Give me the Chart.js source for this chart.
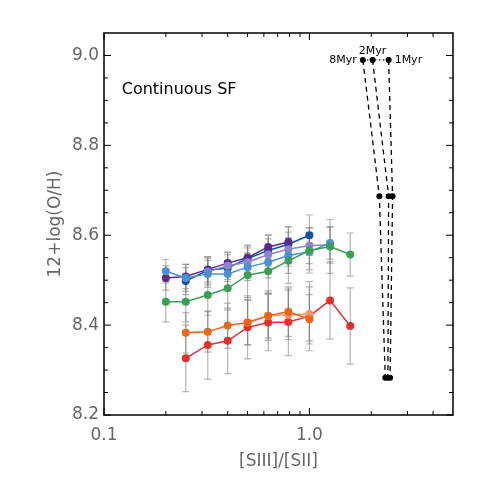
<!DOCTYPE html>
<html>
<head>
<meta charset="utf-8">
<script src="https://cdn.jsdelivr.net/npm/chart.js@4/dist/chart.umd.min.js"></script>
<style>
  html, body { margin: 0; padding: 0; background: #fff; }
  #wrap { width: 485px; height: 485px; }
</style>
</head>
<body>
<div id="wrap"><canvas id="chart-data" width="485" height="485"></canvas></div>
<script>
// [SIII]/[SII] bins (0.1 dex steps)
var ratio = [0.2, 0.25, 0.32, 0.4, 0.5, 0.63, 0.79, 1.0, 1.26, 1.58];

// 12+log(O/H) per sample, null = no point in that bin
var navy        = [null, 8.498, 8.522, 8.527, 8.548, 8.566, 8.580, 8.600, null, null];
var purple      = [8.505, 8.508, 8.524, 8.538, 8.550, 8.574, 8.585, null, null, null];
var lightPurple = [null, null, 8.519, 8.532, 8.540, 8.557, 8.569, 8.577, 8.578, null];
var lightBlue   = [8.520, 8.505, 8.514, 8.514, 8.529, 8.540, 8.555, 8.563, 8.583, null];
var green       = [8.452, 8.452, 8.467, 8.482, 8.511, 8.520, 8.543, 8.566, 8.575, 8.557];
var orange      = [null, 8.383, 8.385, 8.399, 8.406, 8.421, 8.430, 8.413, null, null];
var salmon      = [null, null, null, null, 8.406, 8.421, 8.423, 8.425, null, null];
var red         = [null, 8.326, 8.356, 8.365, 8.395, 8.406, 8.407, 8.420, 8.455, 8.398];

// symmetric errors
var navyErr        = [0, 0.030, 0.030, 0.030, 0.030, 0.035, 0.040, 0.045, 0, 0];
var purpleErr      = [0.027, 0.027, 0.028, 0.024, 0.026, 0.026, 0.033, 0, 0, 0];
var lightPurpleErr = [0, 0, 0.030, 0.030, 0.032, 0.035, 0.038, 0.040, 0.040, 0];
var lightBlueErr   = [0.026, 0.030, 0.030, 0.030, 0.030, 0.035, 0.040, 0.040, 0.036, 0];
var greenErr       = [0.045, 0.045, 0.045, 0.048, 0.050, 0.050, 0.050, 0.050, 0.060, 0.048];
var orangeErr      = [0, 0.045, 0.045, 0.050, 0.050, 0.050, 0.055, 0.055, 0, 0];
var salmonErr      = [0, 0, 0, 0, 0.050, 0.055, 0.055, 0.060, 0, 0];
var redErr         = [0, 0.074, 0.076, 0.073, 0.070, 0.063, 0.075, 0.077, 0.086, 0.085];

// model tracks (8, 2, 1 Myr)
var ageLabels = ["8Myr", "2Myr", "1Myr"];
var trackTopX = [1.82, 2.03, 2.43];
var trackMidX = [2.19, 2.43, 2.54];
var trackBotX = [2.34, 2.41, 2.47];
var trackTopY = 8.99;
var trackMidY = 8.687;
var trackBotY = 8.283;

// axis ticks
var xTicks = [0.1, 1.0];
var xMinor = [0.2, 0.3, 0.4, 0.5, 0.6, 0.7, 0.8, 0.9, 2, 3, 4];
var yTicks = [8.2, 8.4, 8.6, 8.8, 9.0];
var yMinor = [8.25, 8.3, 8.35, 8.45, 8.5, 8.55, 8.65, 8.7, 8.75, 8.85, 8.9, 8.95];

var series = [
    { values: green, err: greenErr, color: "#3c9d55" },
    { values: lightBlue, err: lightBlueErr, color: "#4b91cf" },
    { values: lightPurple, err: lightPurpleErr, color: "#8f84cc" },
    { values: purple, err: purpleErr, color: "#5a2b8e" },
    { values: navy, err: navyErr, color: "#154f9e" },
    { values: orange, err: orangeErr, color: "#e8671c" },
    { values: salmon, err: salmonErr, color: "#f8946f" },
    { values: red, err: redErr, color: "#e2302f" },
];

function points(values) {
    var out = [];
    values.forEach(function (v, i) {
        if (v !== null) out.push({ x: ratio[i], y: v });
    });
    return out;
}

var datasets = series.map(function (s) {
    return {
        data: points(s.values),
        showLine: true,
        borderColor: s.color,
        backgroundColor: s.color,
        borderWidth: 1.5,
        pointRadius: 4,
        pointBorderWidth: 0,
        pointBackgroundColor: s.color,
    };
});

for (var k = 0; k < ageLabels.length; k++) {
    datasets.push({
        data: [
            { x: trackTopX[k], y: trackTopY },
            { x: trackMidX[k], y: trackMidY },
            { x: trackBotX[k], y: trackBotY },
        ],
        showLine: true,
        borderColor: "#000",
        borderWidth: 1.3,
        borderDash: [5, 4],
        pointRadius: 3,
        pointBorderWidth: 0,
        pointBackgroundColor: "#000",
    });
}
datasets.push({
    data: trackTopX.map(function (v) { return { x: v, y: trackTopY }; }),
    showLine: true,
    borderColor: "#000",
    borderWidth: 1.2,
    borderDash: [1.5, 2.5],
    pointRadius: 0,
});

var errorBars = {
    id: "errorBars",
    beforeDatasetsDraw: function (chart) {
        var ctx = chart.ctx, x = chart.scales.x, y = chart.scales.y;
        ctx.save();
        ctx.strokeStyle = "rgba(120,120,120,0.55)";
        ctx.lineWidth = 1.2;
        series.forEach(function (s) {
            s.values.forEach(function (v, i) {
                if (v === null) return;
                var px = x.getPixelForValue(ratio[i]);
                var top = y.getPixelForValue(v + s.err[i]);
                var bot = y.getPixelForValue(v - s.err[i]);
                ctx.beginPath();
                ctx.moveTo(px, top); ctx.lineTo(px, bot);
                ctx.moveTo(px - 3.5, top); ctx.lineTo(px + 3.5, top);
                ctx.moveTo(px - 3.5, bot); ctx.lineTo(px + 3.5, bot);
                ctx.stroke();
            });
        });
        ctx.restore();
    },
};

var frame = {
    id: "frame",
    afterDraw: function (chart) {
        var ctx = chart.ctx, a = chart.chartArea, x = chart.scales.x, y = chart.scales.y;
        ctx.save();
        ctx.strokeStyle = "#000";
        ctx.lineWidth = 1.5;
        ctx.strokeRect(a.left, a.top, a.right - a.left, a.bottom - a.top);
        ctx.lineWidth = 1;
        ctx.beginPath();
        function xt(v, len) {
            var p = x.getPixelForValue(v);
            ctx.moveTo(p, a.bottom); ctx.lineTo(p, a.bottom - len);
            ctx.moveTo(p, a.top); ctx.lineTo(p, a.top + len);
        }
        function yt(v, len) {
            var p = y.getPixelForValue(v);
            ctx.moveTo(a.left, p); ctx.lineTo(a.left + len, p);
            ctx.moveTo(a.right, p); ctx.lineTo(a.right - len, p);
        }
        xTicks.forEach(function (v) { xt(v, 7); });
        xMinor.forEach(function (v) { xt(v, 4); });
        yTicks.forEach(function (v) { yt(v, 7); });
        yMinor.forEach(function (v) { yt(v, 4); });
        ctx.stroke();

        // labels inside the plot
        ctx.fillStyle = "#000";
        ctx.font = "16px 'DejaVu Sans'";
        ctx.textAlign = "left";
        ctx.textBaseline = "middle";
        ctx.fillText("Continuous SF", x.getPixelForValue(0.122), y.getPixelForValue(8.924));

        ctx.font = "11px 'DejaVu Sans'";
        var ty = y.getPixelForValue(trackTopY);
        ctx.textAlign = "right";
        ctx.fillText(ageLabels[0], x.getPixelForValue(trackTopX[0]) - 6, ty);
        ctx.textAlign = "center";
        ctx.textBaseline = "bottom";
        ctx.fillText(ageLabels[1], x.getPixelForValue(trackTopX[1]), ty - 3);
        ctx.textAlign = "left";
        ctx.textBaseline = "middle";
        ctx.fillText(ageLabels[2], x.getPixelForValue(trackTopX[2]) + 6, ty);
        ctx.restore();
    },
};

var ctx = document.getElementById("chart-data").getContext("2d");
var chart = new Chart(ctx, {
    type: "scatter",
    data: { datasets: datasets },
    options: {
        responsive: false,
        animation: false,
        layout: { padding: { top: 33, right: 32, left: 0, bottom: 0 } },
        plugins: {
            legend: { display: false },
            tooltip: { enabled: false },
        },
        scales: {
            x: {
                type: "logarithmic",
                min: 0.1,
                max: 5,
                afterBuildTicks: function (scale) {
                    scale.ticks = xTicks.map(function (v) { return { value: v }; });
                },
                afterFit: function (scale) { scale.height = 70; },
                grid: { display: false, drawTicks: false },
                border: { display: false },
                ticks: {
                    color: "#666",
                    font: { family: "'DejaVu Sans'", size: 17 },
                    padding: 10,
                    maxRotation: 0,
                    autoSkip: false,
                    callback: function (v) { return Number(v).toFixed(1); },
                },
                title: {
                    display: true,
                    text: "[SIII]/[SII]",
                    color: "#666",
                    font: { family: "'DejaVu Sans'", size: 17 },
                    padding: { top: 0, bottom: 13 },
                },
            },
            y: {
                min: 8.2,
                max: 9.05,
                afterBuildTicks: function (scale) {
                    scale.ticks = yTicks.map(function (v) { return { value: v }; });
                },
                afterFit: function (scale) { scale.width = 104; },
                grid: { display: false, drawTicks: false },
                border: { display: false },
                ticks: {
                    color: "#666",
                    font: { family: "'DejaVu Sans'", size: 17 },
                    padding: 5,
                    autoSkip: false,
                    callback: function (v) { return Number(v).toFixed(1); },
                },
                title: {
                    display: true,
                    text: "12+log(O/H)",
                    color: "#666",
                    font: { family: "'DejaVu Sans'", size: 17 },
                    padding: { top: 45, bottom: 0 },
                },
            },
        },
    },
    plugins: [errorBars, frame],
});
</script>
</body>
</html>
